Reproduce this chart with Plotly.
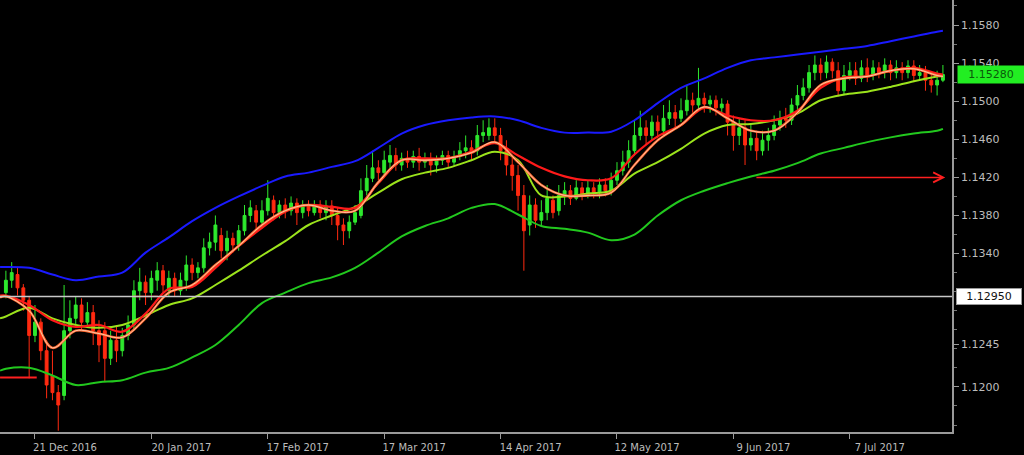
import plotly.graph_objects as go

# ---------------- data (prices in pips, 1 pip = 0.0001) ----------------
PIP = 1e-4

open_pips = [11299, 11312, 11318, 11304, 11291, 11254, 11268, 11238, 11212, 11194,
             11191, 11259, 11272, 11286, 11268, 11278, 11259, 11259, 11230, 11249,
             11238, 11254, 11265, 11301, 11310, 11299, 11312, 11322, 11301, 11314,
             11301, 11312, 11328, 11320, 11325, 11346, 11352, 11359, 11343, 11356,
             11349, 11364, 11380, 11385, 11373, 11385, 11396, 11383, 11391, 11385,
             11393, 11383, 11391, 11383, 11391, 11383, 11390, 11380, 11370, 11364,
             11373, 11380, 11406, 11419, 11430, 11425, 11436, 11443, 11433, 11440,
             11436, 11442, 11436, 11438, 11433, 11438, 11443, 11436, 11442, 11448,
             11451, 11448, 11464, 11464, 11472, 11464, 11448, 11433, 11422, 11401,
             11370, 11391, 11375, 11383, 11396, 11385, 11401, 11406, 11398, 11409,
             11401, 11409, 11404, 11412, 11406, 11417, 11427, 11436, 11448, 11464,
             11472, 11464, 11478, 11469, 11482, 11488, 11482, 11490, 11501, 11496,
             11503, 11497, 11501, 11493, 11497, 11478, 11464, 11472, 11454, 11461,
             11448, 11459, 11464, 11475, 11482, 11480, 11496, 11506, 11514, 11530,
             11538, 11530, 11541, 11532, 11511, 11527, 11532, 11524, 11535, 11527,
             11535, 11530, 11538, 11530, 11535, 11530, 11537, 11527, 11530, 11522,
             11517, 11522]

high_pips = [11322, 11331, 11325, 11308, 11295, 11286, 11272, 11249, 11238, 11202,
             11307, 11291, 11295, 11293, 11289, 11286, 11270, 11268, 11259, 11265,
             11262, 11275, 11312, 11325, 11317, 11322, 11331, 11328, 11322, 11320,
             11320, 11338, 11335, 11331, 11356, 11362, 11380, 11367, 11364, 11362,
             11370, 11391, 11396, 11391, 11396, 11417, 11401, 11396, 11398, 11400,
             11398, 11396, 11396, 11396, 11396, 11396, 11396, 11388, 11377, 11380,
             11391, 11419, 11433, 11448, 11438, 11448, 11454, 11451, 11446, 11448,
             11448, 11451, 11446, 11446, 11443, 11448, 11448, 11448, 11457, 11464,
             11459, 11475, 11480, 11482, 11482, 11472, 11459, 11443, 11433, 11412,
             11401, 11398, 11396, 11412, 11401, 11412, 11415, 11412, 11417, 11415,
             11417, 11415, 11419, 11419, 11425, 11436, 11448, 11459, 11480, 11490,
             11480, 11485, 11485, 11496, 11501, 11496, 11503, 11517, 11509, 11535,
             11509, 11506, 11506, 11503, 11501, 11485, 11482, 11480, 11475, 11469,
             11469, 11472, 11485, 11490, 11493, 11503, 11517, 11524, 11538, 11548,
             11545, 11548, 11545, 11541, 11538, 11541, 11541, 11543, 11545, 11543,
             11541, 11545, 11543, 11543, 11541, 11543, 11543, 11538, 11537, 11530,
             11532, 11538]

low_pips = [11293, 11304, 11296, 11280, 11209, 11247, 11228, 11188, 11186, 11154,
            11186, 11251, 11265, 11259, 11262, 11244, 11226, 11205, 11223, 11226,
            11232, 11249, 11259, 11291, 11286, 11291, 11301, 11299, 11295, 11295,
            11296, 11301, 11312, 11314, 11320, 11338, 11343, 11335, 11333, 11341,
            11343, 11359, 11373, 11364, 11367, 11380, 11375, 11377, 11377, 11380,
            11370, 11377, 11379, 11380, 11377, 11375, 11370, 11354, 11349, 11356,
            11370, 11377, 11401, 11415, 11417, 11421, 11427, 11427, 11427, 11430,
            11430, 11427, 11430, 11422, 11425, 11433, 11430, 11432, 11438, 11440,
            11438, 11443, 11457, 11459, 11457, 11438, 11422, 11406, 11385, 11322,
            11359, 11367, 11370, 11375, 11377, 11380, 11391, 11391, 11396, 11396,
            11398, 11398, 11398, 11400, 11401, 11412, 11422, 11430, 11443, 11459,
            11454, 11459, 11461, 11464, 11475, 11472, 11478, 11485, 11488, 11490,
            11488, 11488, 11485, 11485, 11464, 11448, 11454, 11433, 11448, 11438,
            11443, 11448, 11459, 11469, 11472, 11475, 11490, 11501, 11509, 11522,
            11522, 11524, 11524, 11505, 11506, 11522, 11517, 11520, 11520, 11522,
            11524, 11524, 11522, 11524, 11522, 11524, 11520, 11522, 11511, 11509,
            11506, 11520]

close_pips = [11312, 11320, 11304, 11291, 11254, 11268, 11238, 11202, 11194, 11181,
              11259, 11272, 11286, 11268, 11278, 11259, 11244, 11230, 11249, 11238,
              11254, 11265, 11301, 11310, 11299, 11314, 11322, 11307, 11314, 11301,
              11312, 11328, 11320, 11325, 11346, 11352, 11370, 11343, 11356, 11349,
              11364, 11380, 11388, 11373, 11385, 11398, 11383, 11391, 11385, 11393,
              11383, 11391, 11385, 11391, 11383, 11390, 11380, 11370, 11364, 11373,
              11383, 11406, 11419, 11430, 11425, 11438, 11443, 11433, 11440, 11436,
              11442, 11436, 11440, 11433, 11438, 11443, 11436, 11442, 11448, 11451,
              11446, 11464, 11467, 11472, 11464, 11448, 11433, 11422, 11401, 11364,
              11391, 11375, 11383, 11398, 11383, 11401, 11406, 11398, 11409, 11401,
              11409, 11404, 11412, 11406, 11417, 11427, 11436, 11448, 11464, 11472,
              11464, 11478, 11469, 11482, 11488, 11482, 11490, 11501, 11496, 11503,
              11497, 11501, 11493, 11497, 11478, 11464, 11472, 11454, 11461, 11448,
              11459, 11464, 11475, 11482, 11480, 11496, 11506, 11514, 11530, 11538,
              11530, 11541, 11532, 11511, 11527, 11532, 11524, 11535, 11527, 11535,
              11530, 11538, 11530, 11535, 11530, 11537, 11527, 11530, 11522, 11517,
              11522, 11528]

# indicator lines, sampled at these bar indices
line_idx = [-1, 0, 4, 8, 12, 16, 20, 24, 28, 32, 36, 40, 44, 48, 52, 56, 60, 64, 68, 72,
            76, 80, 84, 88, 92, 96, 100, 104, 108, 112, 116, 120, 124, 128, 132, 136, 140,
            144, 148, 152, 156, 160, 161]

upper_band_pips = [11326, 11326, 11325, 11318, 11312, 11316, 11320, 11341, 11357, 11374,
                   11388, 11400, 11411, 11421, 11425, 11431, 11437, 11451, 11466, 11475,
                   11480, 11483, 11484, 11480, 11472, 11467, 11467, 11468, 11480, 11498,
                   11514, 11524, 11535, 11543, 11546, 11549, 11552, 11555, 11558, 11563,
                   11568, 11573, 11574]

slow_ema_pips = [11296, 11296, 11286, 11270, 11263, 11265, 11258, 11277, 11303, 11305,
                 11325, 11348, 11367, 11384, 11391, 11389, 11388, 11414, 11438, 11440,
                 11440, 11447, 11456, 11443, 11430, 11421, 11417, 11419, 11444, 11463,
                 11475, 11493, 11485, 11480, 11480, 11490, 11514, 11525, 11526, 11532,
                 11535, 11529, 11528]

fast_ema_pips = [11294, 11295, 11280, 11241, 11259, 11256, 11252, 11272, 11299, 11307,
                 11328, 11348, 11370, 11385, 11391, 11385, 11385, 11415, 11438, 11438,
                 11440, 11446, 11457, 11436, 11412, 11401, 11401, 11404, 11433, 11459,
                 11475, 11494, 11482, 11469, 11469, 11488, 11517, 11524, 11526, 11532,
                 11534, 11527, 11526]

mid_ma_pips = [11272, 11274, 11283, 11272, 11265, 11262, 11265, 11275, 11286, 11293,
               11307, 11322, 11338, 11353, 11370, 11380, 11389, 11404, 11418, 11425,
               11430, 11438, 11447, 11438, 11401, 11400, 11403, 11406, 11424, 11436,
               11450, 11466, 11475, 11476, 11480, 11487, 11501, 11507, 11510, 11515,
               11521, 11526, 11527]

lower_band_pips = [11217, 11219, 11220, 11212, 11202, 11205, 11207, 11215, 11220, 11231,
                   11244, 11265, 11288, 11299, 11309, 11315, 11325, 11341, 11358, 11369,
                   11377, 11388, 11392, 11381, 11369, 11366, 11362, 11354, 11360, 11380,
                   11396, 11406, 11414, 11421, 11427, 11435, 11445, 11451, 11457, 11462,
                   11466, 11469, 11471]

# marked levels
level_low = 1.1210          # short red level, far left
level_low_span = [-1.0, 5.3]
level_mid = 1.1295          # red piece on the grey line
level_mid_span = [21.8, 26.1]
arrow_level = 1.1420        # red arrow level
arrow_span = [128.7, 161.4]
hline_price = 1.1295        # grey horizontal line
hline_label = "1.12950"
last_price = 1.1528
last_label = "1.15280"

x_tick_idx = [5, 25, 45, 65, 85, 105, 125, 145]
x_tick_text = ["21 Dec 2016", "20 Jan 2017", "17 Feb 2017", "17 Mar 2017",
               "14 Apr 2017", "12 May 2017", "9 Jun 2017", "7 Jul 2017"]
y_tick_vals = [1.1580, 1.1540, 1.1500, 1.1460, 1.1420, 1.1380, 1.1340, 1.1245, 1.1200]
y_tick_text = ["1.1580", "1.1540", "1.1500", "1.1460", "1.1420", "1.1380", "1.1340",
               "1.1245", "1.1200"]

# ---------------- figure ----------------
to_price = lambda arr: [v * PIP for v in arr]
bars = list(range(len(close_pips)))

fig = go.Figure()

fig.add_trace(go.Candlestick(
    x=bars, open=to_price(open_pips), high=to_price(high_pips),
    low=to_price(low_pips), close=to_price(close_pips),
    increasing=dict(line=dict(color="#2ee82e", width=1), fillcolor="#2ee82e"),
    decreasing=dict(line=dict(color="#ff2a10", width=1), fillcolor="#ff2a10"),
    whiskerwidth=0, showlegend=False, hoverinfo="skip"))

def add_line(vals, color, width):
    fig.add_trace(go.Scatter(x=line_idx, y=to_price(vals), mode="lines",
                             line=dict(color=color, width=width, shape="spline", smoothing=1.0),
                             showlegend=False, hoverinfo="skip"))

add_line(lower_band_pips, "#22c81e", 2)
add_line(mid_ma_pips, "#9be31c", 2)
add_line(slow_ema_pips, "#ff1a1a", 2.2)
add_line(fast_ema_pips, "#ff6a30", 2.4)
add_line(fast_ema_pips, "#ffd9c4", 0.8)
add_line(upper_band_pips, "#1a1aff", 2)

fig.add_trace(go.Scatter(x=level_low_span, y=[level_low, level_low], mode="lines",
                         line=dict(color="#ff2020", width=2), showlegend=False, hoverinfo="skip"))

fig.add_hline(y=hline_price, line=dict(color="#c8c8c8", width=1.5))

fig.add_trace(go.Scatter(x=level_mid_span, y=[level_mid, level_mid], mode="lines",
                         line=dict(color="#ff3030", width=1.5), showlegend=False, hoverinfo="skip"))

fig.add_annotation(x=arrow_span[1], y=arrow_level, ax=arrow_span[0], ay=arrow_level,
                   xref="x", yref="y", axref="x", ayref="y", text="",
                   showarrow=True, arrowhead=5, arrowsize=1.3, arrowwidth=1.5,
                   arrowcolor="#ff2020")

fig.add_annotation(x=1, xref="paper", xanchor="left", xshift=5, y=last_price, yref="y",
                   text=last_label, showarrow=False, bgcolor="#22ee22",
                   font=dict(color="#0a5a0a", size=11, family="DejaVu Sans"),
                   borderpad=2, width=62)
fig.add_annotation(x=1, xref="paper", xanchor="left", xshift=4, y=hline_price, yref="y",
                   text=hline_label, showarrow=False, bgcolor="#ffffff",
                   bordercolor="#999999", borderwidth=1,
                   font=dict(color="#111111", size=11, family="DejaVu Sans"),
                   borderpad=1, width=62)

fig.update_layout(
    width=1024, height=455,
    margin=dict(l=0, r=72, t=0, b=23, autoexpand=False),
    paper_bgcolor="#000000", plot_bgcolor="#000000",
    showlegend=False,
    xaxis=dict(range=[-1.01, 162.56], rangeslider=dict(visible=False),
               showgrid=False, zeroline=False,
               tickmode="array", tickvals=x_tick_idx, ticktext=x_tick_text,
               ticks="outside", ticklen=5, tickcolor="#9a9a9a",
               ticklabelshift=30, ticklabelstandoff=0,
               showline=True, linecolor="#9a9a9a", linewidth=1.5,
               tickfont=dict(color="#bdbdbd", size=10, family="DejaVu Sans")),
    yaxis=dict(range=[1.115265, 1.160625], side="right",
               showgrid=False, zeroline=False,
               tickmode="array", tickvals=y_tick_vals, ticktext=y_tick_text,
               ticks="outside", ticklen=5, tickcolor="#9a9a9a",
               showline=True, linecolor="#9a9a9a", linewidth=1.5,
               minor=dict(ticks="outside", ticklen=3, dtick=0.002, tickcolor="#777777"),
               tickfont=dict(color="#bdbdbd", size=11, family="DejaVu Sans")),
)

fig.write_html("out.html",
               config={"displayModeBar": False},
               post_script="document.body.style.margin='0';"
                           "document.body.style.background='#000';"
                           "document.body.style.overflow='hidden';")
